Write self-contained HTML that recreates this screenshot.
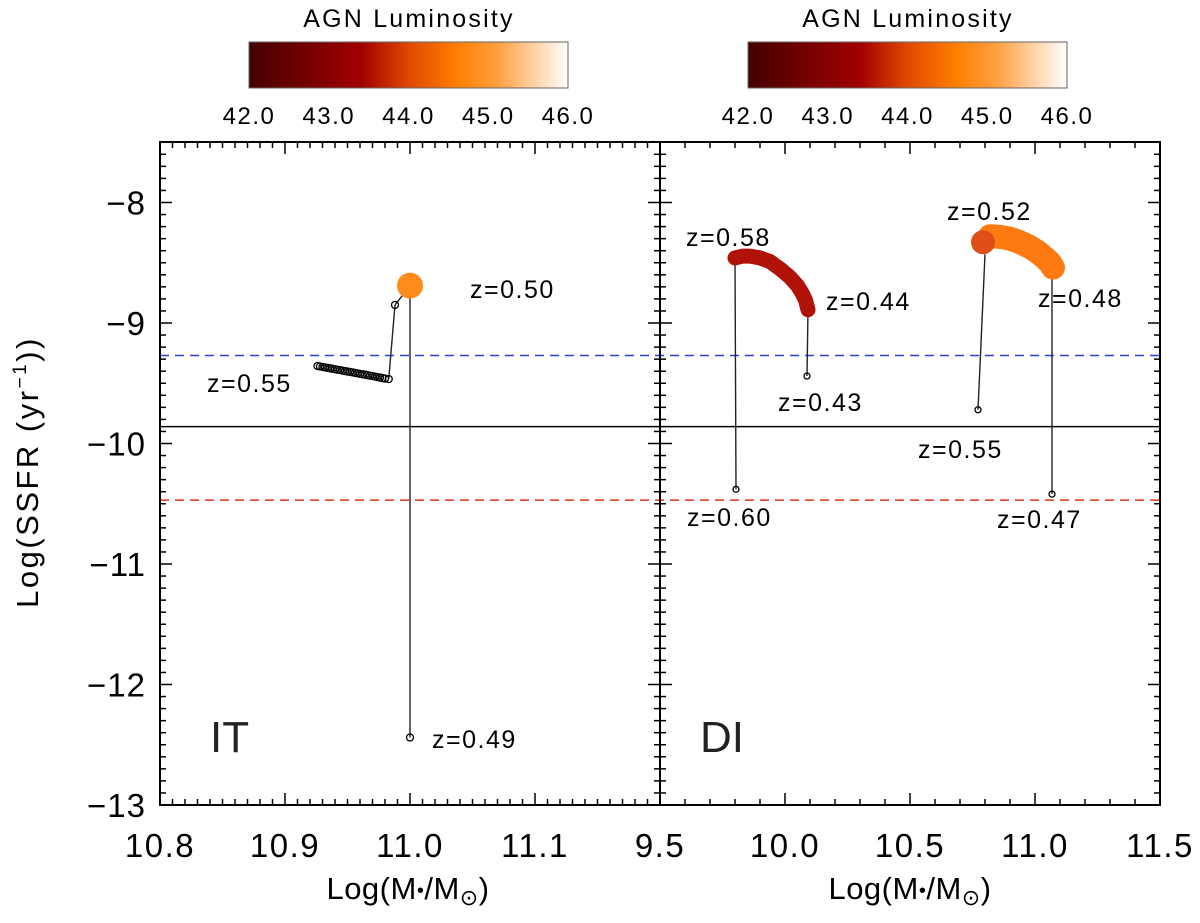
<!DOCTYPE html>
<html><head><meta charset="utf-8"><style>
body{margin:0;background:#fff;}
svg{display:block;font-family:"Liberation Sans",sans-serif;}
</style></head><body>
<svg id="chart" width="1200" height="923" viewBox="0 0 1200 923" xmlns="http://www.w3.org/2000/svg">
<defs>
<linearGradient id="cmap" x1="0" x2="1" y1="0" y2="0">
<stop offset="0" stop-color="#450000"/>
<stop offset="0.2" stop-color="#7a0000"/>
<stop offset="0.35" stop-color="#a00000"/>
<stop offset="0.5" stop-color="#e04800"/>
<stop offset="0.65" stop-color="#ff7e00"/>
<stop offset="0.78" stop-color="#ffa040"/>
<stop offset="1" stop-color="#ffffff"/>
</linearGradient>
</defs>
<g id="root"></g>
</svg>
<script>
const cbTicks = ["42.0","43.0","44.0","45.0","46.0"];
const yTicks = [-8,-9,-10,-11,-12,-13];
const xTicksLeft = ["10.8","10.9","11.0","11.1"];
const xTicksRight = ["9.5","10.0","10.5","11.0","11.5"];
const refLines = [-9.27,-9.86,-10.47];
// Left panel (IT)
const itChainX = [10.926,10.928,10.930,10.932,10.934,10.936,10.938,10.940,10.942,10.944,10.946,10.948,10.950,10.952,10.954,10.956,10.958,10.960,10.962,10.964,10.966,10.968,10.970,10.972,10.974,10.976,10.978,10.980,10.983];
const itChainY = [-9.357,-9.361,-9.365,-9.369,-9.372,-9.376,-9.38,-9.384,-9.388,-9.391,-9.395,-9.399,-9.403,-9.406,-9.41,-9.414,-9.418,-9.422,-9.426,-9.429,-9.433,-9.437,-9.441,-9.445,-9.449,-9.453,-9.457,-9.461,-9.465];
const itMidPt = [10.988,-8.85];
const itDot = [11.0,-8.69];
const itBottom = [11.0,-12.44];
// Right panel (DI)
const diRedX = [9.80,9.83,9.86,9.90,9.94,9.98,10.02,10.05,10.068,10.082,10.092];
const diRedY = [-8.46,-8.445,-8.445,-8.46,-8.49,-8.55,-8.62,-8.69,-8.75,-8.81,-8.89];
const diRedLow1 = [9.804,-10.38];
const diRedLow2 = [10.088,-9.44];
const diOrgStart = [10.792,-8.33];
const diOrgX = [10.82,10.86,10.90,10.94,10.98,11.01,11.04,11.06,11.072];
const diOrgY = [-8.28,-8.285,-8.30,-8.33,-8.37,-8.41,-8.46,-8.50,-8.54];
const diOrgLineA = [10.80,-8.43,10.772,-9.72];
const diOrgLineB = [11.068,-8.62,11.068,-10.42];

const NS="http://www.w3.org/2000/svg";
const root=document.getElementById('root');
function mk(tag,attrs,parent){const e=document.createElementNS(NS,tag);for(const k in attrs)e.setAttribute(k,attrs[k]);(parent||root).appendChild(e);return e;}
const Y0=805,Y1=142;
function y(v){return 805-(v+13)*120.5;}
function xL(v){return 160+(v-10.8)*1250;}
function xR(v){return 660+(v-9.5)*250;}

// colorbars
[[249,'left'],[748,'right']].forEach(([x0,nm])=>{
  const g=mk('g',{});
  
  
  const t=mk('text',{x:x0+160,y:27,'text-anchor':'middle','font-size':25,'letter-spacing':2.2},g);t.textContent='AGN Luminosity';
  
  mk('rect',{x:x0,y:42,width:319,height:46,fill:'url(#cmap)',stroke:'#666','stroke-width':1},g);
  cbTicks.forEach((s,i)=>{const tx=x0+i*319/4;
    const l=mk('text',{x:tx,y:124,'text-anchor':'middle','font-size':24,'letter-spacing':1.5},g);l.textContent=s;
    });
});

// ref lines
const rcol=['#2244dd','#000','#dd3311'];
refLines.forEach((v,i)=>{const l=mk('line',{x1:160,x2:1160,y1:y(v),y2:y(v),stroke:rcol[i],'stroke-width':1.5});
  if(i!==1)l.setAttribute('stroke-dasharray','9,6');
  });

// frames & ticks
function frame(x0,x1,fx,minorStep,majorStep,lo,hi,leftTicks,rightTicks){
  mk('rect',{x:x0,y:Y1,width:x1-x0,height:Y0-Y1,fill:'none',stroke:'#000','stroke-width':2});
  for(let v=lo;v<=hi+1e-9;v+=minorStep){const px=fx(v);const maj=Math.abs(v/majorStep-Math.round(v/majorStep))<1e-6;const L=maj?12:6;
    mk('line',{x1:px,x2:px,y1:Y0,y2:Y0-L,stroke:'#000','stroke-width':1.5});
    mk('line',{x1:px,x2:px,y1:Y1,y2:Y1+L,stroke:'#000','stroke-width':1.5});}
  for(let k=0;k<=55;k++){const v=-13+k*0.1;const py=y(v);const maj=k%10===0;const L=maj?12:6;
    if(leftTicks)mk('line',{x1:x0,x2:x0+L,y1:py,y2:py,stroke:'#000','stroke-width':1.5});
    if(rightTicks)mk('line',{x1:x1,x2:x1-L,y1:py,y2:py,stroke:'#000','stroke-width':1.5});}
}
frame(160,660,xL,0.01,0.1,10.8,11.2,true,true);
frame(660,1160,xR,0.1,0.5,9.5,11.5,true,true);

yTicks.forEach(v=>{const t=mk('text',{x:146,y:y(v)+12,'text-anchor':'end','font-size':33,'letter-spacing':1});t.textContent='\u2212'+Math.abs(v);
  });
xTicksLeft.forEach(s=>{const t=mk('text',{x:xL(+s),y:857,'text-anchor':'middle','font-size':33,'letter-spacing':1.5});t.textContent=s;
  });
xTicksRight.forEach(s=>{const t=mk('text',{x:xR(+s),y:857,'text-anchor':'middle','font-size':33,'letter-spacing':1.5});t.textContent=s;
  });

[408,910].forEach(cx=>{const t=mk('text',{x:cx,y:899,'text-anchor':'middle','font-size':31,'letter-spacing':0.5});
  t.innerHTML='Log(M<tspan font-size="20" dy="-2">\u2022</tspan><tspan dy="2">/M</tspan><tspan font-size="22" dy="6">\u2299</tspan><tspan dy="-6">)</tspan>';
  });
{const t=mk('text',{x:0,y:0,'text-anchor':'middle','font-size':31,'letter-spacing':2.5,transform:'translate(38,472) rotate(-90)'});
  t.innerHTML='Log(SSFR (yr<tspan font-size="19" dy="-12">\u22121</tspan><tspan dy="12">))</tspan>';
  }
[['IT',210],['DI',700]].forEach(([s,x])=>{const t=mk('text',{x:x,y:752,'font-size':44,'font-weight':'lighter',fill:'#222',transform:'',style:'font-stretch:condensed'});t.textContent=s;
  });

function line(ax,ay,bx,by){const l=mk('line',{x1:ax,y1:ay,x2:bx,y2:by,stroke:'#222','stroke-width':1.4});
  }
function circ(cx,cy,r){const c=mk('circle',{cx:cx,cy:cy,r:r,fill:'none',stroke:'#000','stroke-width':1.3});
  }

// IT
line(xL(itDot[0]),y(itDot[1]),xL(itBottom[0]),y(itBottom[1]));
line(xL(itChainX[itChainX.length-1]),y(itChainY[itChainY.length-1]),xL(itMidPt[0]),y(itMidPt[1]));
line(xL(itMidPt[0]),y(itMidPt[1]),xL(itDot[0]),y(itDot[1]));
itChainX.forEach((v,i)=>circ(xL(v),y(itChainY[i]),3.5));
circ(xL(itMidPt[0]),y(itMidPt[1]),3.5);
circ(xL(itBottom[0]),y(itBottom[1]),3.5);
{const c=mk('circle',{cx:xL(itDot[0]),cy:y(itDot[1]),r:13,fill:'#ff8c1a'});}

// DI red
line(xR(diRedX[0]),y(diRedY[0]),xR(diRedLow1[0]),y(diRedLow1[1]));
line(xR(diRedX[diRedX.length-1]),y(diRedY[diRedY.length-1]),xR(diRedLow2[0]),y(diRedLow2[1]));
circ(xR(diRedLow1[0]),y(diRedLow1[1]),3);circ(xR(diRedLow2[0]),y(diRedLow2[1]),3);
{const p=mk('polyline',{points:diRedX.map((v,i)=>xR(v)+','+y(diRedY[i])).join(' '),fill:'none',stroke:'#b01208','stroke-width':15,'stroke-linecap':'round','stroke-linejoin':'round'});
 }
// DI orange
line(xR(diOrgLineA[0]),y(diOrgLineA[1]),xR(diOrgLineA[2]),y(diOrgLineA[3]));
line(xR(diOrgLineB[0]),y(diOrgLineB[1]),xR(diOrgLineB[2]),y(diOrgLineB[3]));
circ(xR(diOrgLineA[2]),y(diOrgLineA[3]),3);circ(xR(diOrgLineB[2]),y(diOrgLineB[3]),3);
{const p=mk('polyline',{points:diOrgX.map((v,i)=>xR(v)+','+y(diOrgY[i])).join(' '),fill:'none',stroke:'#ff7a10','stroke-width':24,'stroke-linecap':'round','stroke-linejoin':'round'});
 }
{const c=mk('circle',{cx:xR(diOrgStart[0]),cy:y(diOrgStart[1]),r:12,fill:'#de5018'});}

// labels
[['z=0.50',470,298],['z=0.55',207,392],['z=0.49',432,748],['z=0.58',686,246],['z=0.44',826,310],['z=0.43',778,411],
 ['z=0.60',687,526],['z=0.52',947,220],['z=0.48',1038,307],['z=0.55',918,458],['z=0.47',997,528]].forEach(([s,x,yy])=>{
  const t=mk('text',{x:x,y:yy,'font-size':25,'letter-spacing':1.5});t.textContent=s;
  });
</script>
</body></html>
